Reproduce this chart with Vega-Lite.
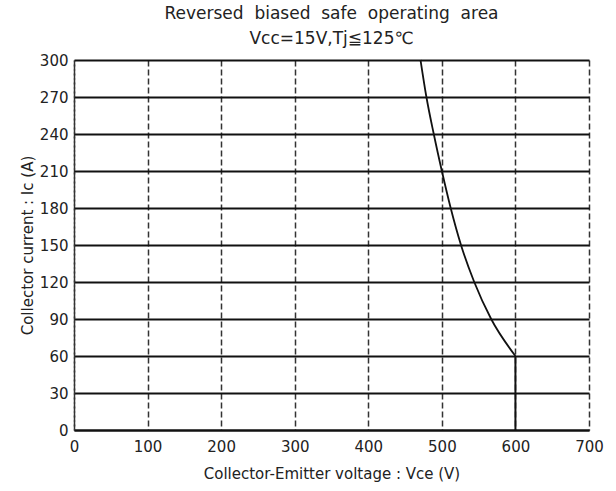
{
  "$schema": "https://vega.github.io/schema/vega-lite/v6.json",
  "width": 515,
  "height": 370,
  "autosize": {"type": "none"},
  "padding": {"left": 74, "top": 60, "right": 27, "bottom": 60},
  "background": "white",
  "title": {
    "text": ["Reversed\u00a0\u00a0biased\u00a0\u00a0safe\u00a0\u00a0operating\u00a0\u00a0area", "Vcc=15V,Tj≦125℃"],
    "anchor": "middle",
    "frame": "group",
    "font": "DejaVu Sans",
    "fontSize": 17,
    "fontWeight": "normal",
    "color": "#222",
    "lineHeight": 25,
    "offset": 5
  },
  "config": {
    "view": {"stroke": null},
    "axis": {
      "labelFont": "DejaVu Sans",
      "titleFont": "DejaVu Sans",
      "labelFontSize": 15,
      "titleFontSize": 15,
      "titleFontWeight": "normal",
      "labelColor": "#222",
      "titleColor": "#222",
      "labelOverlap": false,
      "ticks": false
    }
  },
  "datasets": {
    "curve": [
      {"vce": 471, "ic": 300},
      {"vce": 479, "ic": 270},
      {"vce": 489, "ic": 240},
      {"vce": 500, "ic": 210},
      {"vce": 512, "ic": 180},
      {"vce": 526, "ic": 150},
      {"vce": 544, "ic": 120},
      {"vce": 567, "ic": 90},
      {"vce": 600, "ic": 60}
    ],
    "edge": [
      {"vce": 600, "ic": 0, "ic2": 60}
    ]
  },
  "encoding": {
    "x": {
      "field": "vce",
      "type": "quantitative",
      "scale": {"domain": [0, 700], "nice": false},
      "axis": {
        "values": [0, 100, 200, 300, 400, 500, 600, 700],
        "title": "Collector-Emitter voltage : Vce (V)",
        "titlePadding": 12,
        "labelPadding": 9,
        "labelFlush": false,
        "labelOverlap": false,
        "domainColor": "#111",
        "domainWidth": 2,
        "grid": true,
        "gridColor": "#333",
        "gridWidth": 1.5,
        "gridDash": [6, 3]
      }
    },
    "y": {
      "field": "ic",
      "type": "quantitative",
      "scale": {"domain": [0, 300], "nice": false},
      "axis": {
        "values": [0, 30, 60, 90, 120, 150, 180, 210, 240, 270, 300],
        "title": "Collector current : Ic (A)",
        "titlePadding": 4,
        "labelPadding": 6,
        "labelFlush": false,
        "labelOverlap": false,
        "domainColor": "#333",
        "domainWidth": 1.5,
        "domainDash": [6, 3],
        "grid": true,
        "gridColor": "#111",
        "gridWidth": 2
      }
    }
  },
  "layer": [
    {
      "data": {"name": "curve"},
      "mark": {"type": "line", "color": "#111", "strokeWidth": 1.8, "interpolate": "monotone"}
    },
    {
      "data": {"name": "edge"},
      "mark": {"type": "rule", "color": "#111", "strokeWidth": 2},
      "encoding": {
        "y2": {"field": "ic2"}
      }
    }
  ]
}
